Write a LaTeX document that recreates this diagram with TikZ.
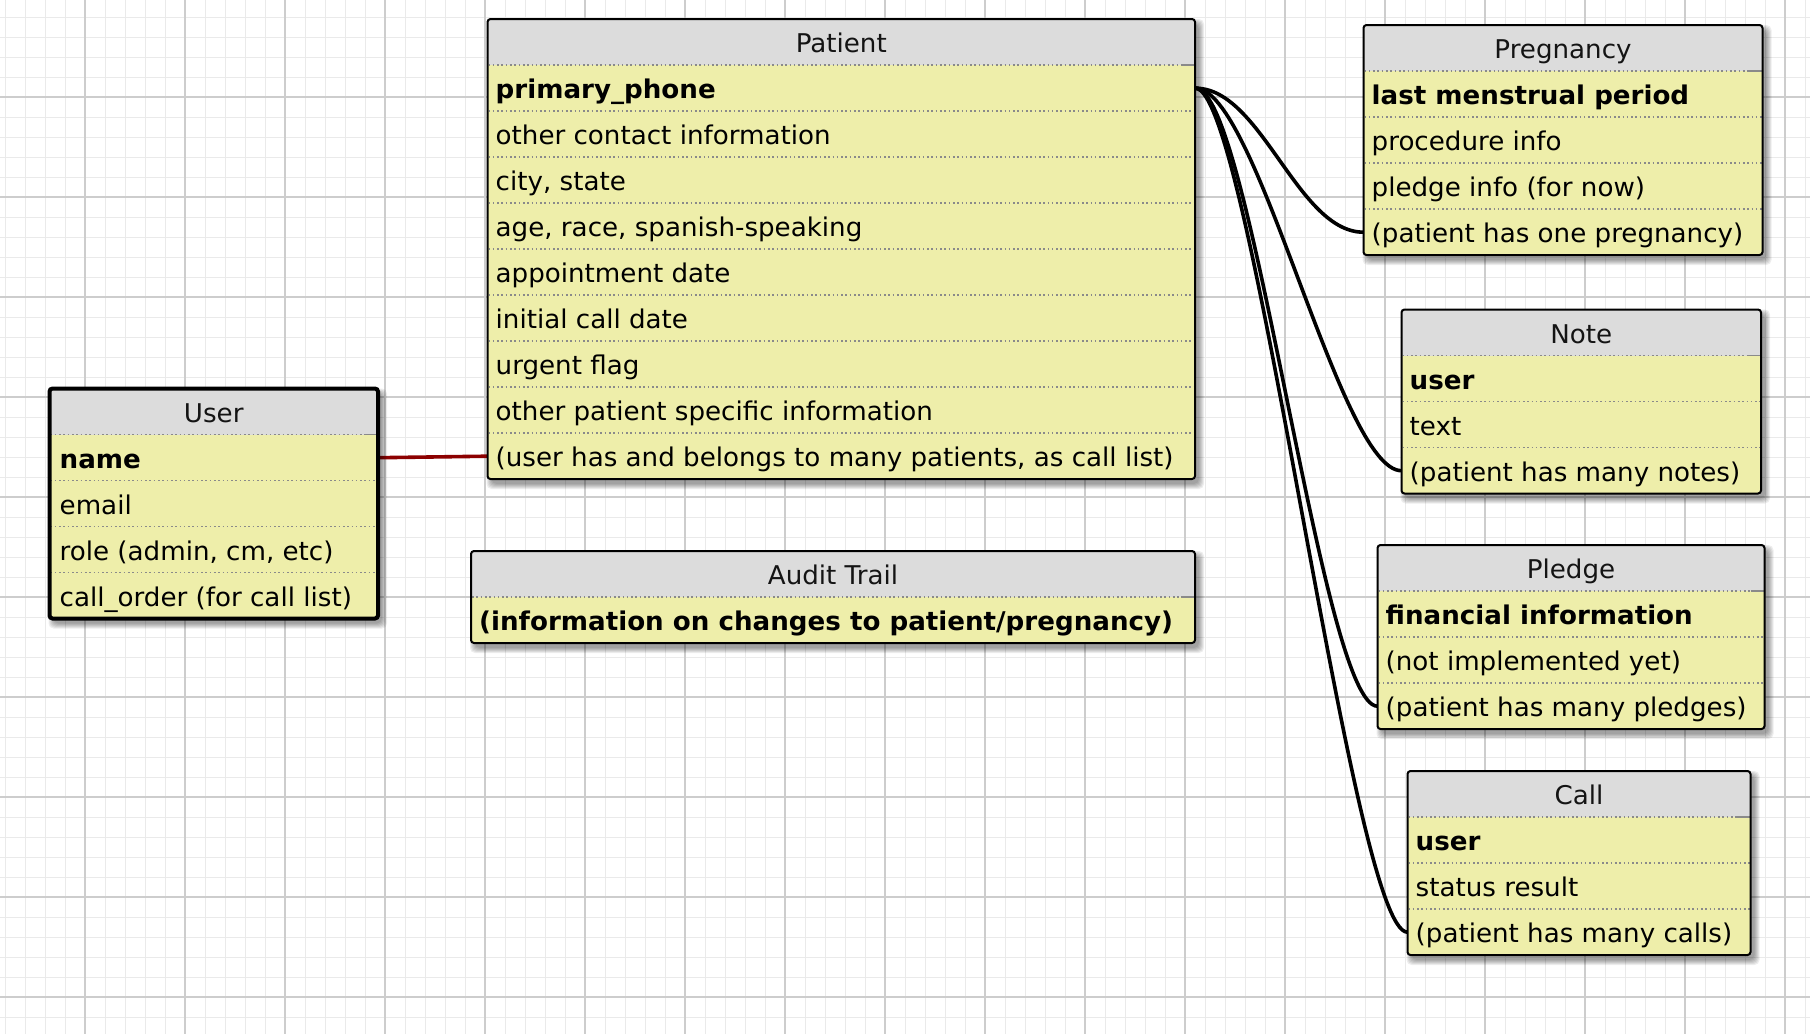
\documentclass[tikz,border=0pt]{standalone}
\usepackage{fontspec}
\setmainfont{DejaVu Sans}[FakeStretch=1.013]
\usetikzlibrary{calc}
\definecolor{rowfill}{HTML}{EEEEAA}
\definecolor{headfill}{HTML}{DCDCDC}
\definecolor{gridminor}{HTML}{EAEAEA}
\definecolor{gridmajor}{HTML}{CDCDCD}
\definecolor{sepgray}{HTML}{8A8A8A}
\definecolor{linkred}{HTML}{8C0000}
\newcommand\entfont{\fontsize{25.8}{31}\selectfont}
\pgfdeclarelayer{gridlayer}
\pgfdeclarelayer{edgelayer}
\pgfsetlayers{gridlayer,edgelayer,main}
\tikzset{
  rowbox/.style={anchor=north west, inner sep=0pt, minimum height=46pt},
  rowtext/.style={anchor=west, inner ysep=0pt, text height=22pt, text depth=1.4pt, font=\entfont},
  titletext/.style={anchor=north, inner sep=0pt, minimum height=46pt, text height=22pt, text depth=1.4pt, font=\entfont, text=black!92},
  sepline/.style={sepgray, line width=1.3pt, dash pattern=on 1.6pt off 2.7pt},
  boxborder/.style={draw=black, rounded corners=3pt},
  conn/.style={black, line width=3.6pt},
  redlink/.style={linkred, line width=3.6pt},
}
% #1 id, #2 x left, #3 x right, #4 y top, #5 number of rows, #6 title, #7 rows, #8 border width
\newcommand\entity[8]{%
  \pgfmathsetmacro\eW{#3-#2}%
  \pgfmathsetmacro\eC{(#2+#3)/2}%
  \pgfmathsetmacro\eB{#4+46*(#5+1)}%
  \pgfmathsetmacro\eIX{6+#8}%
  \foreach \k in {0,...,5}{%
    \fill[black,opacity=0.07,rounded corners=5pt] (#2+4-\k,#4+5-\k) rectangle (#3+4+\k,\eB+5+\k);}%
  \begin{scope}
    \clip[rounded corners=3pt] (#2,#4) rectangle (#3,\eB);
    \fill[rowfill] (#2,#4) rectangle (#3,\eB);
    \fill[headfill] (#2,#4) rectangle (#3,#4+46);
  \end{scope}
  \node[titletext] (#1-h) at (\eC,#4) {#6};
  \foreach \t [count=\i] in {#7}{%
    \node[rowbox, minimum width=\eW pt] (#1-\i) at (#2,#4+46*\i) {};
    \node[rowtext, inner xsep=\eIX pt] at (#1-\i.west) {\t};
    \draw[sepline] (#2+1,#4+46*\i) -- (#3-1,#4+46*\i);
  }
  \draw[sepgray, line width=1.3pt] (#3-14,#4+46) -- (#3-1,#4+46);
  \draw[boxborder, line width=#8pt] (#2,#4) rectangle (#3,\eB);
}
\begin{document}
\begin{tikzpicture}[x=1pt,y=-1pt]
\useasboundingbox (0,0) rectangle (1810,1034);
\begin{pgfonlayer}{gridlayer}
  \fill[white] (0,0) rectangle (1810,1034);
  \foreach \x in {5,25,...,1805} \draw[gridminor, line width=1pt] (\x,0) -- (\x,1034);
  \foreach \y in {17,37,...,1017} \draw[gridminor, line width=1pt] (0,\y) -- (1810,\y);
  \foreach \x in {85,185,...,1785} \draw[gridmajor, line width=1.3pt] (\x,0) -- (\x,1034);
  \foreach \y in {97,197,...,997} \draw[gridmajor, line width=1.3pt] (0,\y) -- (1810,\y);
\end{pgfonlayer}

\entity{pat}{487.5}{1195}{19}{9}{Patient}{{\textbf{primary\_phone}},{other contact information},{city, state},{age, race, spanish-speaking},{appointment date},{initial call date},{urgent flag},{other patient specific information},{(user has and belongs to many patients, as call list)}}{2}

\entity{usr}{49.5}{378}{388.5}{4}{User}{{\textbf{name}},{email},{role (admin, cm, etc)},{call\_order (for call list)}}{4}

\entity{aud}{471}{1195}{551}{1}{Audit Trail}{{\textbf{(information on changes to patient/pregnancy)}}}{2}

\entity{preg}{1363.5}{1762.5}{25}{4}{Pregnancy}{{\textbf{last menstrual period}},{procedure info},{pledge info (for now)},{(patient has one pregnancy)}}{2}

\entity{note}{1401.5}{1761}{309.5}{3}{Note}{{\textbf{user}},{text},{(patient has many notes)}}{2}

\entity{pled}{1377.5}{1764.5}{545}{3}{Pledge}{{\textbf{financial information}},{(not implemented yet)},{(patient has many pledges)}}{2}

\entity{call}{1407.5}{1750.5}{771}{3}{Call}{{\textbf{user}},{status result},{(patient has many calls)}}{2}

\begin{pgfonlayer}{edgelayer}
  \draw[conn] (pat-1.east) .. controls +(66,0) and +(-66,0) .. (preg-4.west);
  \draw[conn] (pat-1.east) .. controls +(62,0) and +(-62,0) .. (note-3.west);
  \draw[conn] (pat-1.east) .. controls +(56,0) and +(-56,0) .. (pled-3.west);
  \draw[conn] (pat-1.east) .. controls +(56,0) and +(-56,0) .. (call-3.west);
  \draw[redlink] (usr-1.east) -- (pat-9.west);
\end{pgfonlayer}
\end{tikzpicture}
\end{document}
